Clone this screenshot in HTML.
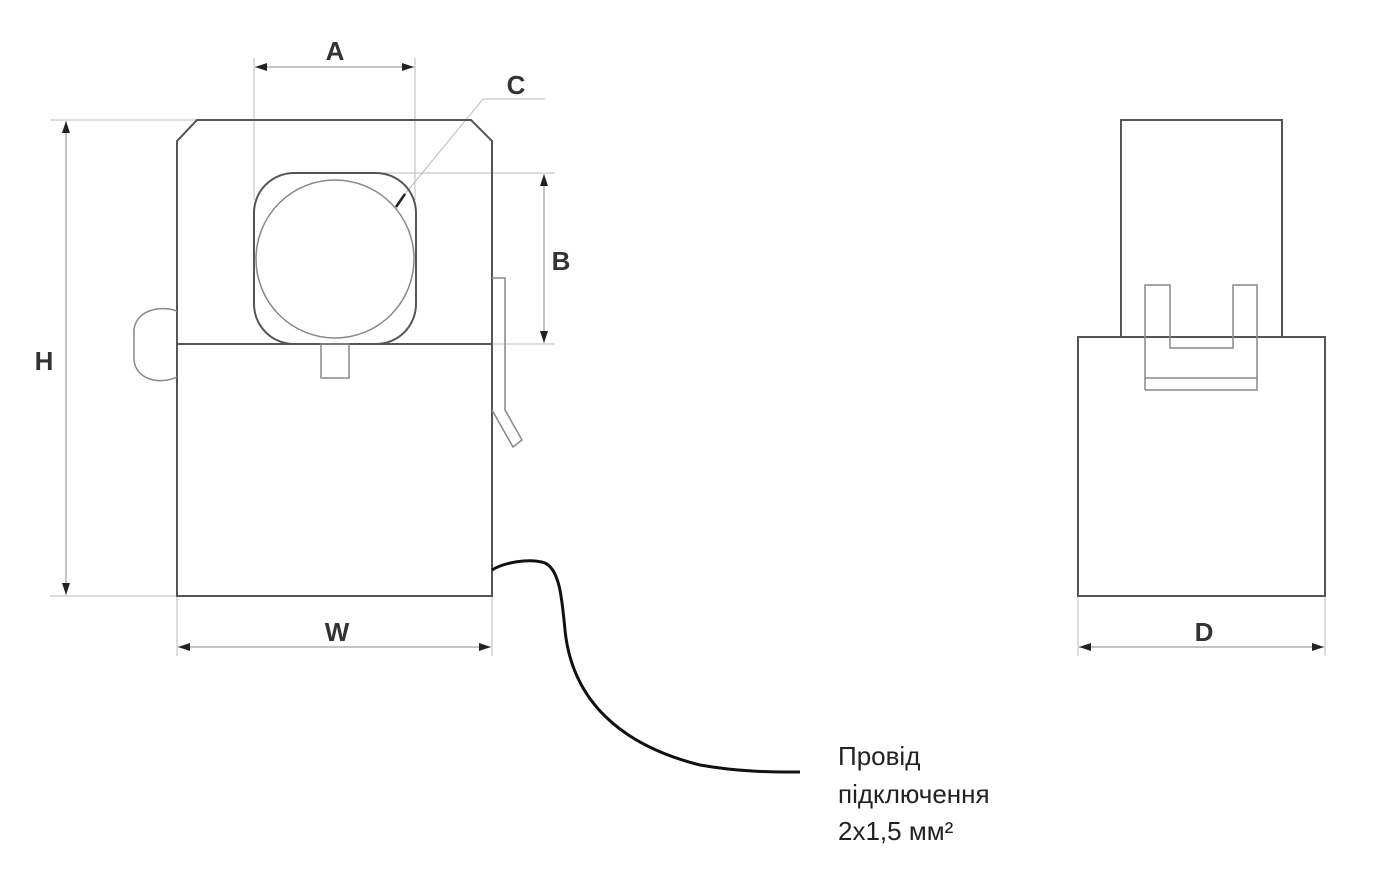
<!DOCTYPE html>
<html><head><meta charset="utf-8"><style>html,body{margin:0;padding:0;background:#fff}svg{display:block}</style></head>
<body>
<svg width="1377" height="881" viewBox="0 0 1377 881" xmlns="http://www.w3.org/2000/svg">
<defs>
<marker id="ar" markerWidth="12" markerHeight="8" refX="12" refY="4" orient="auto-start-reverse" markerUnits="userSpaceOnUse"><path d="M0,0 L12,4 L0,8 Z" fill="#222"/></marker>
</defs>
<g fill="none" stroke="#bbb" stroke-width="1">
<line x1="50" y1="120" x2="197" y2="120"/>
<line x1="50" y1="596" x2="177" y2="596"/>
<line x1="254" y1="58" x2="254" y2="200"/>
<line x1="415" y1="58" x2="415" y2="200"/>
<line x1="350" y1="173" x2="555" y2="173"/>
<line x1="492" y1="344" x2="555" y2="344"/>
<line x1="177" y1="596" x2="177" y2="656"/>
<line x1="492" y1="596" x2="492" y2="656"/>
<line x1="1078" y1="596" x2="1078" y2="656"/>
<line x1="1325" y1="596" x2="1325" y2="656"/>
<polyline points="400,200 483,99 545,99"/>
</g>
<g fill="none" stroke="#888" stroke-width="1">
<line x1="66" y1="121" x2="66" y2="595" marker-start="url(#ar)" marker-end="url(#ar)"/>
<line x1="255" y1="67" x2="414" y2="67" marker-start="url(#ar)" marker-end="url(#ar)"/>
<line x1="544" y1="174" x2="544" y2="343" marker-start="url(#ar)" marker-end="url(#ar)"/>
<line x1="178" y1="647" x2="491" y2="647" marker-start="url(#ar)" marker-end="url(#ar)"/>
<line x1="1079" y1="647" x2="1324" y2="647" marker-start="url(#ar)" marker-end="url(#ar)"/>
</g>
<line x1="396" y1="207" x2="405" y2="194" stroke="#222" stroke-width="2.5"/>
<g fill="none" stroke="#555" stroke-width="2">
<polygon points="197,120 471,120 492,141 492,596 177,596 177,141"/>
<rect x="254" y="173" width="162" height="171" rx="40"/>
<line x1="177" y1="344" x2="492" y2="344"/>
<rect x="1121" y="120" width="161" height="217"/>
<polyline points="1145,337 1078,337 1078,596 1325,596 1325,337 1257,337"/>
</g>
<g fill="none" stroke="#888" stroke-width="1.5">
<circle cx="335" cy="259" r="79"/>
<rect x="321" y="344" width="28" height="34"/>
<path d="M177,311 C160,305 136,310 134,330 L134,360 C136,380 160,385 177,377"/>
<polyline points="492,278 505,278 505,410 522,440 513,447 492,410"/>
<polyline points="1145,390 1145,285 1170,285 1170,348 1233,348 1233,285 1257,285 1257,390 1145,390"/>
<line x1="1145" y1="378" x2="1257" y2="378"/>
</g>
<path d="M492,570 C505,562 530,558 545,563 C560,570 562,600 565,630 C572,700 620,745 700,765 C740,772 770,772 800,772" fill="none" stroke="#111" stroke-width="3"/>
<g font-family="Liberation Sans, sans-serif" font-size="26" font-weight="bold" fill="#333" text-anchor="middle">
<text x="335" y="60">A</text>
<text x="516" y="94">C</text>
<text x="561" y="270">B</text>
<text x="44" y="370">H</text>
<text x="337" y="641">W</text>
<text x="1204" y="641">D</text>
</g>
<g font-family="Liberation Sans, sans-serif" font-size="26" fill="#222">
<text x="838" y="765">Провід</text>
<text x="838" y="803">підключення</text>
<text x="838" y="840">2x1,5 мм²</text>
</g>
</svg>
</body></html>
